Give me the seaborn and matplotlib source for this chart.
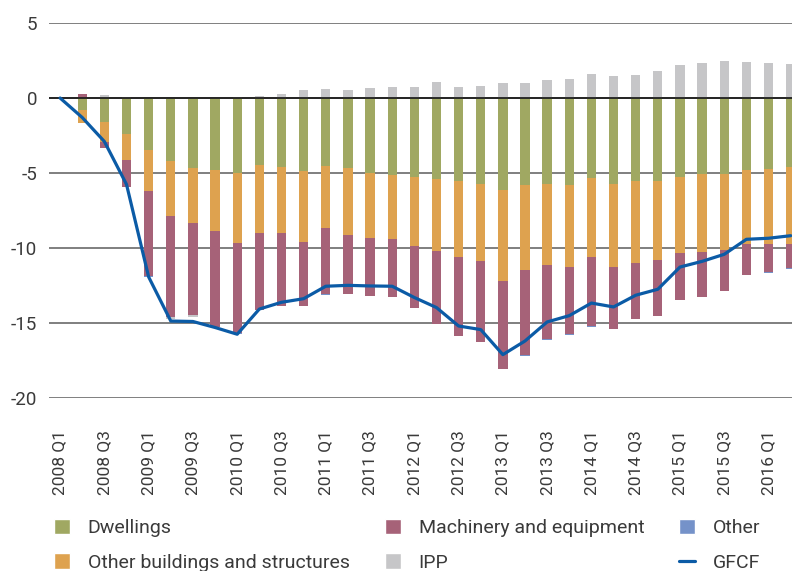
import numpy as np
import matplotlib
matplotlib.use("Agg")
import matplotlib.pyplot as plt
import seaborn as sns
from matplotlib.patches import Patch
from matplotlib.lines import Line2D

# Quarters 2008 Q1 .. 2016 Q2
quarters = [f"{y} Q{q}" for y in range(2008, 2017) for q in range(1, 5)][:34]

# Contributions (percentage points)
dwellings = [0, -0.80, -1.62, -2.40, -3.49, -4.22, -4.69, -4.82, -5.02, -4.49,
             -4.62, -4.89, -4.56, -4.69, -5.02, -5.14, -5.29, -5.42, -5.56, -5.73,
             -6.13, -5.82, -5.73, -5.82, -5.33, -5.73, -5.56, -5.56, -5.29, -5.07,
             -5.07, -4.80, -4.76, -4.62]
other_buildings = [0, -0.87, -1.34, -1.76, -2.73, -3.67, -3.67, -4.07, -4.67, -4.53,
                   -4.40, -4.73, -4.13, -4.47, -4.34, -4.28, -4.60, -4.80, -5.06, -5.16,
                   -6.09, -5.67, -5.42, -5.47, -5.29, -5.56, -5.46, -5.26, -5.06, -5.22,
                   -5.08, -4.95, -4.99, -5.13]
machinery = [0, 0.30, -0.37, -1.80, -5.68, -6.70, -6.14, -6.38, -5.95, -5.13,
             -4.83, -4.25, -4.38, -3.88, -3.84, -3.85, -4.08, -4.82, -5.22, -5.38,
             -5.85, -5.63, -4.91, -4.44, -4.60, -4.11, -3.69, -3.73, -3.12, -2.98,
             -2.72, -2.07, -1.84, -1.61]
ipp = [0, 0, 0.18, 0.10, 0, -0.12, -0.10, 0, 0.05, 0.11,
       0.24, 0.51, 0.58, 0.53, 0.64, 0.71, 0.71, 1.04, 0.71, 0.78,
       0.98, 0.98, 1.18, 1.24, 1.58, 1.44, 1.51, 1.78, 2.18, 2.31,
       2.44, 2.38, 2.31, 2.24]
other = [0, 0, 0, 0, -0.06, 0, 0, 0, -0.07, 0,
         -0.04, 0, -0.04, 0, 0, 0, 0, 0, -0.05, 0,
         0, -0.05, -0.05, -0.04, -0.05, 0, 0.04, 0, 0, 0.04,
         0, 0, -0.05, -0.04]
gfcf = [0, -1.30, -2.90, -5.76, -11.93, -14.87, -14.90, -15.30, -15.75, -14.07,
        -13.62, -13.38, -12.55, -12.49, -12.53, -12.55, -13.30, -13.97, -15.20, -15.44,
        -17.11, -16.20, -14.93, -14.51, -13.67, -13.93, -13.15, -12.75, -11.27, -10.89,
        -10.42, -9.42, -9.35, -9.18]

series_names = ["Dwellings", "Other buildings and structures",
                "Machinery and equipment", "IPP", "Other"]
series_vals = [dwellings, other_buildings, machinery, ipp, other]
colors = ["#a0a862", "#dea24f", "#a66278", "#c6c6c8", "#7592c9"]
line_color = "#0b5ba6"
text_color = "#3a3a3a"

sns.set_style("white")
plt.rcParams["font.family"] = ["Roboto", "DejaVu Sans"]

fig = plt.figure(figsize=(7.92, 5.71), dpi=100)
ax = fig.add_axes([0.0619, 0.303, 0.9504, 0.6567])

x = np.arange(len(quarters))
pos_base = np.zeros(len(x))
neg_base = np.zeros(len(x))
for vals, color in zip(series_vals, colors):
    v = np.array(vals, dtype=float)
    bottom = np.where(v >= 0, pos_base, neg_base)
    ax.bar(x, v, width=0.42, bottom=bottom, color=color, linewidth=0, zorder=2)
    pos_base += np.clip(v, 0, None)
    neg_base += np.clip(v, None, 0)

ax.axhline(0, color="#1f1f1f", lw=1.3, zorder=3)
sns.lineplot(x=x, y=gfcf, ax=ax, color=line_color, lw=2.3, sort=False, zorder=4)

ax.set_xlim(-0.5, len(x) - 0.5)
ax.set_ylim(-20, 5)
ax.set_yticks([5, 0, -5, -10, -15, -20])
ax.set_yticklabels(["5", "0", "-5", "-10", "-15", "-20"])
ax.set_xticks(x[::2])
ax.set_xticklabels(quarters[::2], rotation=90)
ax.grid(axis="y", color="#6a6a6a", lw=1.2)
ax.set_axisbelow(True)
for s in ax.spines.values():
    s.set_visible(False)
ax.tick_params(axis="y", length=0, pad=8.5, labelsize=13.5, labelcolor=text_color)
ax.tick_params(axis="x", length=0, pad=23, labelsize=12.5, labelcolor=text_color)
ax.set_xlabel("")
ax.set_ylabel("")

handles = [Patch(facecolor=c, label=n) for c, n in zip(colors, series_names)]
handles.append(Line2D([0], [0], color=line_color, lw=2.3, label="GFCF"))
leg = fig.legend(handles=handles, ncol=3, loc="upper left",
                 bbox_to_anchor=(54 / 792, 1 - 519 / 571), frameon=False,
                 fontsize=14, handlelength=0.82, handleheight=0.82,
                 handletextpad=0.92, columnspacing=1.8, labelspacing=0.83,
                 borderpad=0, borderaxespad=0)
for t in leg.get_texts():
    t.set_color(text_color)

fig.savefig("out.png", dpi=100)
